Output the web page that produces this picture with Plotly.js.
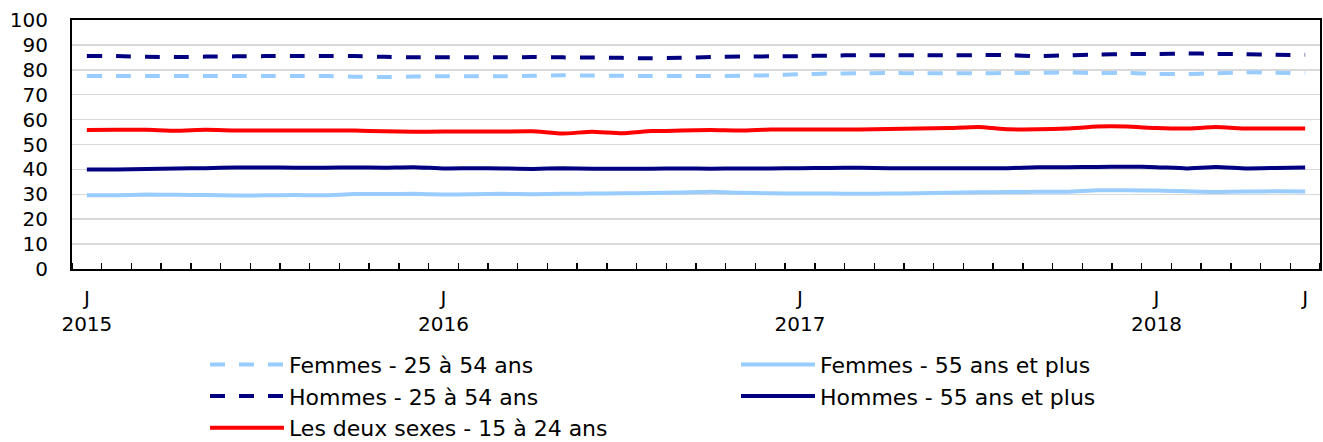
<!DOCTYPE html>
<html>
<head>
<meta charset="utf-8">
<script src="https://cdn.plot.ly/plotly-3.0.1.min.js"></script>
<style>html,body{margin:0;padding:0;background:#fff;}#chart{width:1323px;height:442px;}</style>
</head>
<body>
<div id="chart"></div>
<script>
// Months: January 2015 to June 2018
const months = [
  "2015-01","2015-02","2015-03","2015-04","2015-05","2015-06","2015-07","2015-08","2015-09","2015-10","2015-11","2015-12",
  "2016-01","2016-02","2016-03","2016-04","2016-05","2016-06","2016-07","2016-08","2016-09","2016-10","2016-11","2016-12",
  "2017-01","2017-02","2017-03","2017-04","2017-05","2017-06","2017-07","2017-08","2017-09","2017-10","2017-11","2017-12",
  "2018-01","2018-02","2018-03","2018-04","2018-05","2018-06"
];
const tickMonths = ["2015-01","2016-01","2017-01","2018-01","2018-06"];
const tickLabels = ["J<br>2015","J<br>2016","J<br>2017","J<br>2018","J"];

const femmes2554 = [77.5,77.5,77.5,77.5,77.5,77.5,77.5,77.5,77.5,77.2,77.1,77.3,
  77.4,77.4,77.4,77.6,77.8,77.7,77.6,77.5,77.5,77.5,77.6,77.8,
  78.2,78.5,78.6,78.7,78.6,78.6,78.6,78.7,78.8,78.9,78.7,78.8,
  78.3,78.3,78.6,79.0,78.8,78.7];
const femmes55 = [29.6,29.6,29.9,29.8,29.7,29.5,29.6,29.7,29.6,30.1,30.1,30.2,
  29.9,30.0,30.2,30.0,30.2,30.3,30.4,30.5,30.7,31.0,30.6,30.4,
  30.3,30.3,30.2,30.3,30.4,30.6,30.8,30.9,31.0,31.0,31.6,31.6,
  31.5,31.2,30.9,31.1,31.2,31.1];
const hommes2554 = [85.5,85.5,85.2,85.1,85.3,85.4,85.5,85.5,85.5,85.5,85.2,85.0,
  85.0,85.0,85.0,85.1,85.0,84.9,84.8,84.6,84.8,85.1,85.3,85.4,
  85.5,85.7,85.9,85.8,85.8,85.8,85.9,85.9,85.5,85.8,86.1,86.3,
  86.3,86.6,86.4,86.3,86.0,86.0];
const hommes55 = [40.0,40.0,40.2,40.4,40.5,40.8,40.8,40.7,40.7,40.8,40.7,40.9,
  40.4,40.5,40.4,40.2,40.5,40.3,40.3,40.3,40.4,40.3,40.4,40.4,
  40.5,40.6,40.7,40.5,40.5,40.5,40.5,40.5,40.9,40.9,41.0,41.1,
  40.9,40.4,41.0,40.4,40.6,40.8];
const deuxSexes1524 = [55.8,55.9,55.9,55.5,55.9,55.6,55.6,55.6,55.6,55.6,55.3,55.1,
  55.2,55.2,55.2,55.3,54.4,55.1,54.5,55.4,55.6,55.8,55.6,56.0,
  56.0,56.0,56.0,56.2,56.4,56.6,57.0,56.1,56.1,56.4,57.2,57.2,
  56.6,56.4,57.0,56.4,56.4,56.4];

const seriesNames = ["Femmes - 25 à 54 ans","Femmes - 55 ans et plus","Hommes - 25 à 54 ans","Hommes - 55 ans et plus","Les deux sexes - 15 à 24 ans"];

const idx = months.map((m, i) => i);
const tickIdx = tickMonths.map(m => months.indexOf(m));

const LIGHT = "#99CCFF", NAVY = "#000080", RED = "#FF0000";
const DASH = "15px,14px";

function tr(y, name, color, dash) {
  return {x: idx, y: y, name: name, type: "scatter", mode: "lines",
    line: {color: color, width: 4, dash: dash || "solid", shape: "spline", smoothing: 0.4},
    customdata: months, hoverinfo: "skip"};
}

const data = [
  tr(femmes2554, seriesNames[0], LIGHT, DASH),
  tr(femmes55, seriesNames[1], LIGHT),
  tr(hommes2554, seriesNames[2], NAVY, DASH),
  tr(hommes55, seriesNames[3], NAVY),
  tr(deuxSexes1524, seriesNames[4], RED)
];

const FONT = "DejaVu Sans, Verdana, sans-serif";
const layout = {
  width: 1323, height: 442,
  margin: {l: 72, r: 3, t: 20, b: 173, autoexpand: false},
  paper_bgcolor: "#fff", plot_bgcolor: "#fff",
  font: {family: FONT, size: 20, color: "#000"},
  showlegend: true,
  legend: {
    orientation: "h", x: (205 - 72) / 1248, xanchor: "left",
    y: -0.30, yanchor: "top",
    itemwidth: 74, maxheight: 1,
    entrywidth: 442, entrywidthmode: "pixels",
    font: {family: FONT, size: 22, color: "#000"},
    itemclick: false, itemdoubleclick: false,
    bgcolor: "rgba(0,0,0,0)"
  },
  xaxis: {
    range: [-0.5, 41.5], showgrid: false, zeroline: false,
    showline: true, linecolor: "#000", linewidth: 2, mirror: true,
    tickmode: "array", tickvals: tickIdx, ticktext: tickLabels,
    ticks: "", ticklabelstandoff: 10,
    tickfont: {family: FONT, size: 20, color: "#000"},
    minor: {tickmode: "linear", tick0: -0.5, dtick: 1, ticks: "inside", ticklen: 6, tickwidth: 1.5, tickcolor: "#000", showgrid: false},
    fixedrange: true
  },
  yaxis: {
    range: [0, 100], dtick: 10, tick0: 0,
    showgrid: true, gridcolor: "#d9d9d9", gridwidth: 1.5,
    zeroline: false,
    showline: true, linecolor: "#000", linewidth: 2, mirror: true,
    ticks: "outside", ticklen: 18, tickcolor: "rgba(0,0,0,0)",
    tickfont: {family: FONT, size: 20, color: "#000"},
    fixedrange: true
  }
};

Plotly.newPlot("chart", data, layout, {displayModeBar: false, staticPlot: true});
</script>
</body>
</html>
